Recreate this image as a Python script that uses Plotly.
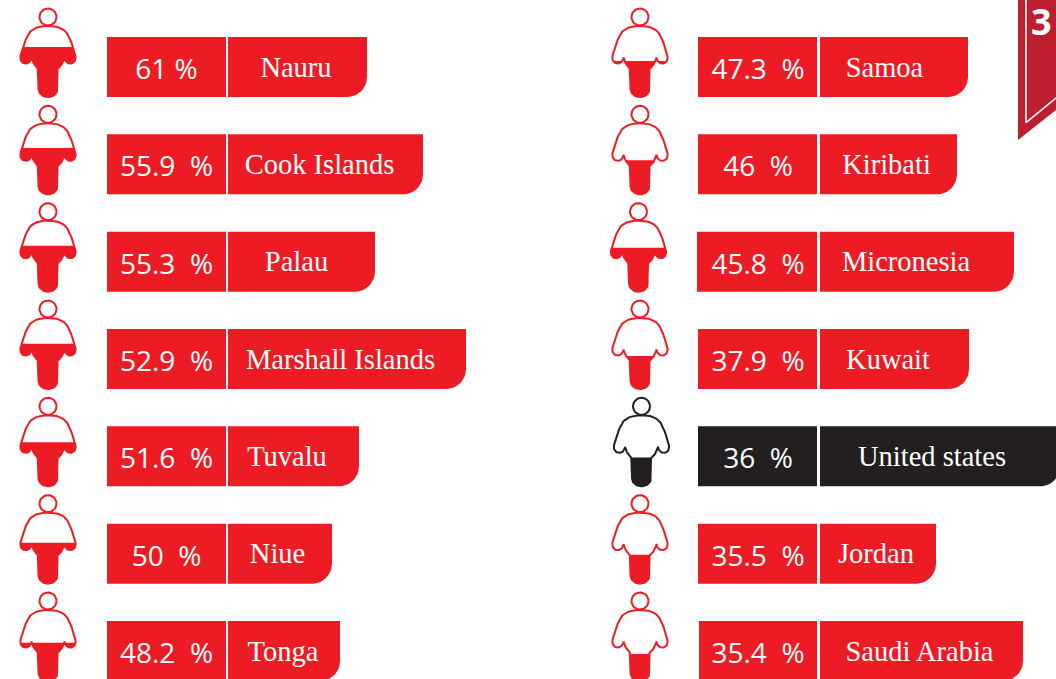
import math
import plotly.graph_objects as go

# ---- data ----
left_names = ["Nauru", "Cook Islands", "Palau", "Marshall Islands", "Tuvalu", "Niue", "Tonga"]
left_values = [61, 55.9, 55.3, 52.9, 51.6, 50, 48.2]
left_fill_pct = [70.6, 65.4, 65, 64, 62.5, 58, 54]

right_names = ["Samoa", "Kiribati", "Micronesia", "Kuwait", "United states", "Jordan", "Saudi Arabia"]
right_values = [47.3, 46, 45.8, 37.9, 36, 35.5, 35.4]
right_fill_pct = [51, 48.5, 62, 47, 41, 41, 38.5]

# ---- layout of the panels (separate from the data) ----
W, H = 1056, 679
RED, BLACK, RIBBON = "#ED1C24", "#231F20", "#BE1E2D"
ROW0, ROW_STEP, ROW_H = 37, 97.33, 60
FONT_PCT, FONT_NAME = "Open Sans", "Liberation Serif"

left_col = dict(cx=[48] * 7, box=[107] * 7, split=226, name=228, pct_x=166.5,
                ends=[367, 423, 375, 466, 359, 332, 340],
                name_x=[296, 319.5, 296.5, 340.5, 287, 277.5, 283])
right_col = dict(cx=[640, 640, 638.5, 640, 641.5, 640, 640],
                 box=[698, 698, 697, 698, 698, 698, 699], split=817, name=820, pct_x=758,
                 ends=[968, 957, 1014, 969, 1060, 936, 1023],
                 name_x=[884.5, 886.5, 906, 888, 932, 876, 919.5])


def bez(p0, p1, p2, p3, n=14):
    out = []
    for k in range(1, n + 1):
        t = k / n
        a, b, c, d = (1 - t) ** 3, 3 * t * (1 - t) ** 2, 3 * t * t * (1 - t), t ** 3
        out.append((a * p0[0] + b * p1[0] + c * p2[0] + d * p3[0],
                    a * p0[1] + b * p1[1] + c * p2[1] + d * p3[1]))
    return out


def body_outline():
    # right half of the figure, in px from head axis / top of the row
    segs = [((0, -11), (7, -11), (13, -10), (18, -5)),
            ((18, -5), (22, 0), (25, 10), (27, 17)),
            ((27, 17), (29, 23), (26, 26.5), (22.5, 26.5)),
            ((22.5, 26.5), (19, 26.5), (17, 24), (16.5, 20.5)),
            ((16.5, 20.5), (15, 26), (13, 29), (9.5, 32)),
            ((9.5, 32), (9.5, 38), (9.5, 44), (9.5, 51)),
            ((9.5, 51), (9.5, 57), (5, 60), (0, 60))]
    half = [(0, -11)]
    for s in segs:
        half += bez(*s)
    return half + [(-x, y) for x, y in reversed(half[:-1])]


BODY = body_outline()
BODY_TOP, BODY_BOTTOM = -11, 60.5


def clip_below(poly, level):
    out = []
    for i, a in enumerate(poly):
        b = poly[(i + 1) % len(poly)]
        ina, inb = a[1] >= level, b[1] >= level
        if ina:
            out.append(a)
        if ina != inb:
            t = (level - a[1]) / (b[1] - a[1])
            out.append((a[0] + t * (b[0] - a[0]), level))
    return out


def pill(x0, x1, y0, y1, r=20):
    pts = [(x0, y0), (x1, y0), (x1, y1 - r)]
    for k in range(1, 13):
        ang = k / 12 * math.pi / 2
        pts.append((x1 - r + r * math.cos(ang), y1 - r + r * math.sin(ang)))
    pts.append((x0, y1))
    return pts


def poly_trace(pts, color):
    xs = [p[0] for p in pts] + [pts[0][0]]
    ys = [p[1] for p in pts] + [pts[0][1]]
    return go.Scatter(x=xs, y=ys, mode="lines", fill="toself", fillcolor=color,
                      line=dict(width=0, color=color), hoverinfo="skip", showlegend=False)


fig = go.Figure()
pct_x, pct_y, pct_t = [], [], []
name_x, name_y, name_t = [], [], []

for col, names, vals, fills in [(left_col, left_names, left_values, left_fill_pct),
                                (right_col, right_names, right_values, right_fill_pct)]:
    for i, (nm, v, f) in enumerate(zip(names, vals, fills)):
        top = ROW0 + i * ROW_STEP
        color = BLACK if nm == "United states" else RED
        cx = col["cx"][i]
        box = col["box"][i]

        # bars
        fig.add_trace(poly_trace([(box, top), (col["split"], top),
                                  (col["split"], top + ROW_H), (box, top + ROW_H)], color))
        fig.add_trace(poly_trace(pill(col["name"], col["ends"][i], top, top + ROW_H), color))

        # figure: filled part, outline, head
        level = BODY_BOTTOM - (BODY_BOTTOM - BODY_TOP) * f / 100
        fig.add_trace(poly_trace([(cx + x, top + y) for x, y in clip_below(BODY, level)], color))
        fig.add_trace(go.Scatter(x=[cx + x for x, _ in BODY] + [cx + BODY[0][0]],
                                 y=[top + y for _, y in BODY] + [top + BODY[0][1]],
                                 mode="lines", line=dict(width=2, color=color),
                                 hoverinfo="skip", showlegend=False))
        fig.add_trace(go.Scatter(
            x=[cx + 8.5 * math.cos(a / 30 * 2 * math.pi) for a in range(31)],
            y=[top - 20 + 8.5 * math.sin(a / 30 * 2 * math.pi) for a in range(31)],
            mode="lines", line=dict(width=2, color=color), hoverinfo="skip", showlegend=False))

        gap = "\u00a0" if v == 61 else "\u00a0\u00a0"
        pct_x.append(col["pct_x"])
        pct_y.append(top + 35)
        pct_t.append(f"{v}{gap}%")
        name_x.append(col["name_x"][i])
        name_y.append(top + 32.5)
        name_t.append(nm)

# ribbon corner
fig.add_trace(poly_trace([(1018, 0), (1058, 0), (1058, 108.4), (1018, 140)], RIBBON))
fig.add_trace(go.Scatter(x=[1026, 1026, 1058], y=[0, 122.7, 96.4], mode="lines",
                         line=dict(width=1.6, color="white"), hoverinfo="skip", showlegend=False))

fig.add_trace(go.Scatter(x=pct_x, y=pct_y, text=pct_t, mode="text", textposition="middle center",
                         textfont=dict(family=FONT_PCT, size=28, color="white"),
                         hoverinfo="skip", showlegend=False))
fig.add_trace(go.Scatter(x=name_x, y=name_y, text=name_t, mode="text", textposition="middle center",
                         textfont=dict(family=FONT_NAME, size=28.5, color="white"),
                         hoverinfo="skip", showlegend=False))
fig.add_trace(go.Scatter(x=[1031], y=[26], text=["3"], mode="text", textposition="middle right",
                         textfont=dict(family=FONT_PCT, size=36, color="white", weight=700),
                         hoverinfo="skip", showlegend=False))

fig.update_layout(width=W, height=H, margin=dict(l=0, r=0, t=0, b=0),
                  paper_bgcolor="white", plot_bgcolor="white", showlegend=False,
                  xaxis=dict(range=[0, W], visible=False, fixedrange=True),
                  yaxis=dict(range=[H, 0], visible=False, fixedrange=True))

fig.write_html("out.html", config={"displayModeBar": False},
               post_script="document.body.style.margin='0';document.body.style.overflow='hidden';")
